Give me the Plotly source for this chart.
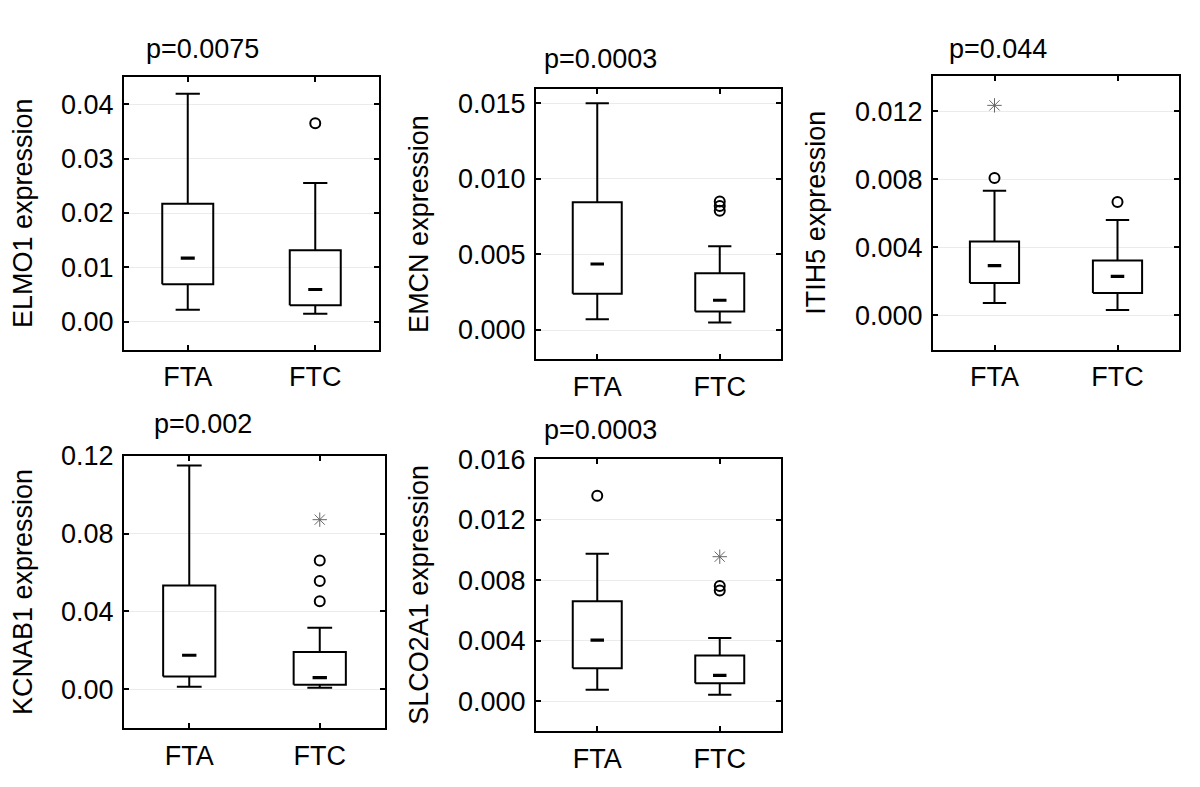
import plotly.graph_objects as go

# ---------------- data ----------------
groups = ["FTA", "FTC"]
genes = ["ELMO1", "EMCN", "ITIH5", "KCNAB1", "SLCO2A1"]
p_labels = ["p=0.0075", "p=0.0003", "p=0.044", "p=0.002", "p=0.0003"]

# box statistics: [lower whisker, Q1, median, Q3, upper whisker]
elmo1_fta = [0.00223, 0.0069, 0.0117, 0.0217, 0.0419]
elmo1_ftc = [0.00151, 0.00306, 0.00595, 0.01315, 0.02553]
emcn_fta = [0.00071, 0.0024, 0.00437, 0.00846, 0.0150]
emcn_ftc = [0.0005, 0.00123, 0.00197, 0.00375, 0.00554]
itih5_fta = [0.00072, 0.00189, 0.00292, 0.00434, 0.00733]
itih5_ftc = [0.00031, 0.00131, 0.00228, 0.00322, 0.0056]
kcnab1_fta = [0.00136, 0.00656, 0.0175, 0.0533, 0.1149]
kcnab1_ftc = [0.00086, 0.00237, 0.00605, 0.0192, 0.0316]
slco2a1_fta = [0.00078, 0.00219, 0.00405, 0.00662, 0.00977]
slco2a1_ftc = [0.00045, 0.0012, 0.00173, 0.00303, 0.0042]

# outliers (circles)
elmo1_out = [[], [0.0365]]
emcn_out = [[], [0.0085, 0.0082, 0.0079]]
itih5_out = [[0.00807], [0.00666]]
kcnab1_out = [[], [0.0661, 0.0556, 0.0452]]
slco2a1_out = [[0.0136], [0.00764, 0.00734]]

# extremes (asterisks)
elmo1_ext = [[], []]
emcn_ext = [[], []]
itih5_ext = [[0.01235], []]
kcnab1_ext = [[], [0.0871]]
slco2a1_ext = [[], [0.00957]]

# axis ranges and tick labels
y_ranges = [[-0.0051, 0.045], [-0.00195, 0.01597], [-0.00203, 0.01408],
            [-0.02, 0.12], [-0.00197, 0.01606]]
y_ticks = [[0.0, 0.01, 0.02, 0.03, 0.04],
           [0.0, 0.005, 0.010, 0.015],
           [0.0, 0.004, 0.008, 0.012],
           [0.0, 0.04, 0.08, 0.12],
           [0.0, 0.004, 0.008, 0.012, 0.016]]
y_ticktext = [["0.00", "0.01", "0.02", "0.03", "0.04"],
              ["0.000", "0.005", "0.010", "0.015"],
              ["0.000", "0.004", "0.008", "0.012"],
              ["0.00", "0.04", "0.08", "0.12"],
              ["0.000", "0.004", "0.008", "0.012", "0.016"]]

stats = [[elmo1_fta, elmo1_ftc], [emcn_fta, emcn_ftc], [itih5_fta, itih5_ftc],
         [kcnab1_fta, kcnab1_ftc], [slco2a1_fta, slco2a1_ftc]]
outliers = [elmo1_out, emcn_out, itih5_out, kcnab1_out, slco2a1_out]
extremes = [elmo1_ext, emcn_ext, itih5_ext, kcnab1_ext, slco2a1_ext]

# ---------------- layout geometry (target screen pixels) ----------------
W, H = 1200, 787
OFF = 8  # page body margin of the browser
frames = [(124, 379, 63, 341), (536, 781, 75, 351), (933, 1179, 62, 341),
          (124, 385, 449, 727), (536, 781, 452, 730)]
title_pos = [(144, 35), (542, 45), (947, 34), (152, 417), (542, 423)]

FONT = "Liberation Sans, Arial, sans-serif"
FS = 27
BOX_HW = 0.2      # half width of box
CAP_HW = 0.095    # half width of whisker caps
MED_HW = 0.055    # half width of the median dash

fig = go.Figure()
layout = dict(width=W, height=H, margin=dict(l=0, r=0, t=0, b=0),
              plot_bgcolor="white", paper_bgcolor="white", showlegend=False,
              font=dict(family=FONT, size=FS, color="black"))
annotations = []

for k in range(5):
    xa = "x" if k == 0 else f"x{k+1}"
    ya = "y" if k == 0 else f"y{k+1}"
    for i, g in enumerate(groups):
        lo, q1, med, q3, hi = stats[k][i]
        xs = [i - BOX_HW, i + BOX_HW, i + BOX_HW, i - BOX_HW, i - BOX_HW, None,
              i, i, None, i, i, None,
              i - CAP_HW, i + CAP_HW, None, i - CAP_HW, i + CAP_HW]
        ys = [q1, q1, q3, q3, q1, None,
              q3, hi, None, q1, lo, None,
              hi, hi, None, lo, lo]
        fig.add_trace(go.Scatter(x=xs, y=ys, mode="lines", xaxis=xa, yaxis=ya,
                                 line=dict(color="black", width=2),
                                 hoverinfo="skip", name=f"{genes[k]} {g}"))
        fig.add_trace(go.Scatter(x=[i - MED_HW, i + MED_HW], y=[med, med], mode="lines",
                                 xaxis=xa, yaxis=ya, line=dict(color="black", width=3.2),
                                 hoverinfo="skip"))
        if outliers[k][i]:
            fig.add_trace(go.Scatter(x=[i] * len(outliers[k][i]), y=outliers[k][i],
                                     mode="markers", xaxis=xa, yaxis=ya,
                                     marker=dict(symbol="circle-open", size=10, color="black",
                                                 line=dict(width=2, color="black"))))
        if extremes[k][i]:
            fig.add_trace(go.Scatter(x=[i] * len(extremes[k][i]), y=extremes[k][i],
                                     mode="markers", xaxis=xa, yaxis=ya,
                                     marker=dict(symbol="asterisk-open", size=12, color="#666666",
                                                 line=dict(width=1, color="#666666"))))

    x0, x1, y0, y1 = [v - OFF for v in frames[k]]
    xkey = "xaxis" if k == 0 else f"xaxis{k+1}"
    ykey = "yaxis" if k == 0 else f"yaxis{k+1}"
    layout[xkey] = dict(domain=[x0 / W, x1 / W], anchor=ya, range=[-0.5, 1.5],
                        tickvals=[0, 1], ticktext=groups, ticks="inside", ticklen=5,
                        tickwidth=1.5, tickcolor="black", showline=True, linecolor="black",
                        linewidth=2, mirror="ticks", showgrid=False, zeroline=False,
                        ticklabelstandoff=2, tickfont=dict(size=FS, family=FONT, color="black"))
    layout[ykey] = dict(domain=[1 - y1 / H, 1 - y0 / H], anchor=xa, range=y_ranges[k],
                        tickvals=y_ticks[k], ticktext=y_ticktext[k], ticks="inside", ticklen=5,
                        tickwidth=1.5, tickcolor="black", showline=True, linecolor="black",
                        linewidth=2, mirror="ticks", showgrid=True, gridcolor="#ebebeb",
                        gridwidth=1, zeroline=False, ticklabelstandoff=3,
                        tickfont=dict(size=FS, family=FONT, color="black"),
                        title=dict(text=f"{genes[k]} expression", standoff=22,
                                   font=dict(size=FS, family=FONT, color="black")))
    tx, ty = title_pos[k]
    annotations.append(dict(text=p_labels[k], xref="paper", yref="paper",
                            x=(tx - OFF) / W, y=1 - (ty - OFF) / H, xanchor="left",
                            yanchor="middle", showarrow=False,
                            font=dict(size=FS, family=FONT, color="black")))

layout["annotations"] = annotations
fig.update_layout(**layout)
fig.write_html("out.html")
